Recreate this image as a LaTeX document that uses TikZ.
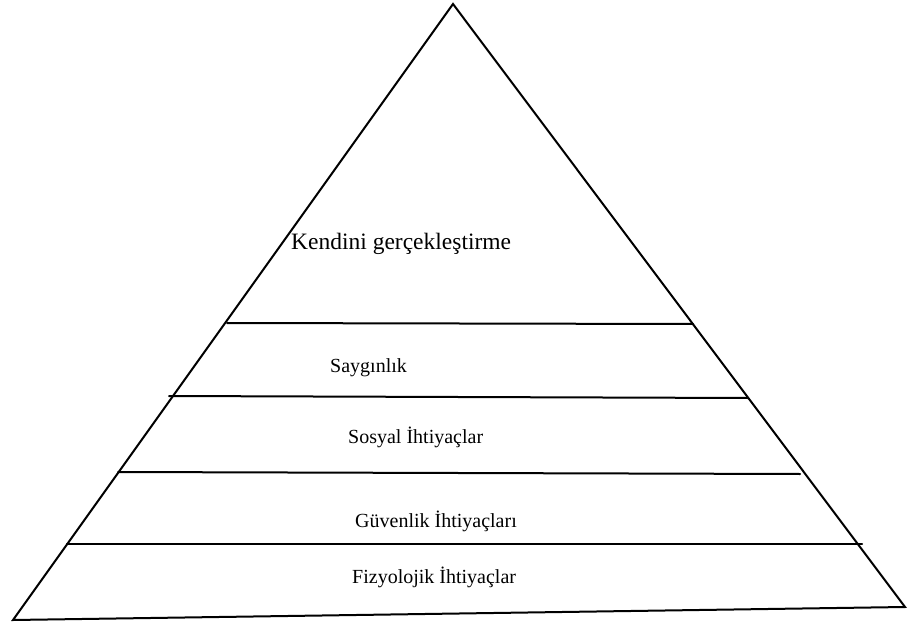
\documentclass[tikz,border=0pt]{standalone}
\usepackage{fontspec}
\setmainfont{Liberation Serif}
\begin{document}
\begin{tikzpicture}[x=1pt,y=-1pt,
  edge/.style={line width=2pt,line cap=round,line join=miter},
  lbl/.style={anchor=base west,inner sep=0pt,font=\fontsize{20}{24}\selectfont}]
\useasboundingbox (0,0) rectangle (908,623);
\coordinate (apex) at (453,4);
\coordinate (bl) at (13,620);
\coordinate (br) at (905,607);
\draw[edge] (bl) -- (apex) -- (br) -- cycle;
\coordinate (l1a) at (227,323); \coordinate (l1b) at (693,324);
\coordinate (l2a) at (169,396); \coordinate (l2b) at (748,398);
\coordinate (l3a) at (118,472); \coordinate (l3b) at (800,474);
\coordinate (l4a) at (67,544); \coordinate (l4b) at (862,544);
\draw[edge] (l1a) -- (l1b);
\draw[edge] (l2a) -- (l2b);
\draw[edge] (l3a) -- (l3b);
\draw[edge] (l4a) -- (l4b);
\node[lbl,font=\fontsize{23.5}{28}\selectfont] (t1) at (291,249) {Kendini gerçekleştirme};
\node[lbl] (t2) at (330,372) {Saygınlık};
\node[lbl] (t3) at (348,443) {Sosyal İhtiyaçlar};
\node[lbl] (t4) at (355,527) {Güvenlik İhtiyaçları};
\node[lbl] (t5) at (352,583) {Fizyolojik İhtiyaçlar};
\end{tikzpicture}
\end{document}
